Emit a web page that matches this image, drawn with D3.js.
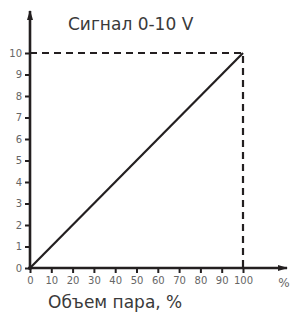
<!DOCTYPE html>
<html>
<head>
<meta charset="utf-8">
<script src="https://cdn.jsdelivr.net/npm/d3@7"></script>
<style>
  body { margin: 0; background: #fff; }
  text { font-family: "DejaVu Sans", sans-serif; }
</style>
</head>
<body>
<div id="chart"></div>
<script>
// data
const percent = [0, 100]
const volts = [0, 10]
const xTicks = [0, 10, 20, 30, 40, 50, 60, 70, 80, 90, 100]
const yTicks = [0, 1, 2, 3, 4, 5, 6, 7, 8, 9, 10]
const title = "Сигнал 0-10 V"
const xTitle = "Объем пара, %"

const width = 291, height = 313
const ink = "#231f20"

const svg = d3.select("#chart").append("svg")
  .attr("width", width)
  .attr("height", height)

const x = d3.scaleLinear().domain([0, 100]).range([30, 243])
const y = d3.scaleLinear().domain([0, 10]).range([268, 53])

// arrow head
svg.append("defs").append("marker")
    .attr("id", "arrow")
    .attr("viewBox", "0 0 10 10")
    .attr("refX", 9).attr("refY", 5)
    .attr("markerWidth", 4).attr("markerHeight", 4)
    .attr("markerUnits", "strokeWidth")
    .attr("orient", "auto")
  .append("path")
    .attr("d", "M0,2 L10,5 L0,8 Z")
    .attr("fill", ink)

// dashed guides
svg.append("path")
  .attr("d", `M${x(0)},${y(10)} H${x(100)} V${y(0)}`)
  .attr("fill", "none")
  .attr("stroke", ink)
  .attr("stroke-width", 2.2)
  .attr("stroke-dasharray", "7,5")

// signal line
svg.append("line")
  .attr("x1", x(percent[0])).attr("y1", y(volts[0]))
  .attr("x2", x(percent[1])).attr("y2", y(volts[1]))
  .attr("stroke", ink)
  .attr("stroke-width", 2.2)

// axes
const xAxis = d3.axisBottom(x).tickValues(xTicks).tickSize(5).tickPadding(4)
const yAxis = d3.axisLeft(y).tickValues(yTicks).tickSize(5).tickPadding(3)

const gx = svg.append("g").attr("transform", `translate(0,${y(0)})`).call(xAxis)
const gy = svg.append("g").attr("transform", `translate(${x(0)},0)`).call(yAxis)

gx.select(".domain").remove()
gy.select(".domain").remove()
gx.selectAll(".tick line").attr("stroke", ink).attr("stroke-width", 2).attr("y1", -1)
gy.selectAll(".tick line").attr("stroke", ink).attr("stroke-width", 2).attr("x1", 1)
gx.selectAll(".tick text").attr("fill", "#666").attr("font-size", 10)
gy.selectAll(".tick text").attr("fill", "#666").attr("font-size", 10)

svg.append("line")
  .attr("x1", x(0) - 2).attr("y1", y(0))
  .attr("x2", 287).attr("y2", y(0))
  .attr("stroke", ink).attr("stroke-width", 2.6)
  .attr("marker-end", "url(#arrow)")

svg.append("line")
  .attr("x1", x(0)).attr("y1", y(0) + 2)
  .attr("x2", x(0)).attr("y2", 11)
  .attr("stroke", ink).attr("stroke-width", 2.6)
  .attr("marker-end", "url(#arrow)")

svg.append("text")
  .attr("x", 284).attr("y", 287)
  .attr("text-anchor", "middle")
  .attr("fill", "#666")
  .attr("font-size", 12)
  .text("%")

// titles
svg.append("text")
  .attr("x", 68).attr("y", 30)
  .attr("fill", "#3a3a3a")
  .attr("font-size", 17)
  .text(title)

svg.append("text")
  .attr("x", 48).attr("y", 308)
  .attr("fill", "#3a3a3a")
  .attr("font-size", 17)
  .text(xTitle)
</script>
</body>
</html>
